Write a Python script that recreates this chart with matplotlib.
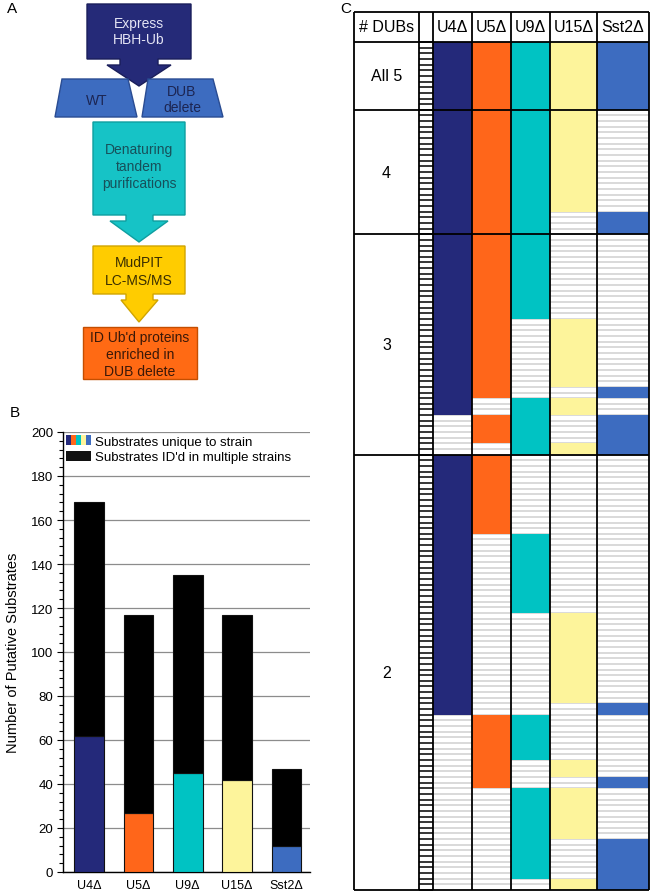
import numpy as np
import matplotlib
matplotlib.use('Agg')
import matplotlib.pyplot as plt
from matplotlib.patches import Polygon, Patch
from matplotlib.legend_handler import HandlerTuple
from matplotlib.ticker import MultipleLocator

plt.rcParams['font.family'] = ['Liberation Sans', 'DejaVu Sans']

# ---- data ----
strains = ['U4Δ', 'U5Δ', 'U9Δ', 'U15Δ', 'Sst2Δ']
strain_colors = ['#24297a', '#ff661a', '#00c3c3', '#fdf49b', '#3d6cc0']
total_substrates = [168, 117, 135, 117, 47]
unique_substrates = [62, 27, 45, 42, 12]

# panel C: groups of proteins found in N strains, and rows per group
group_labels = ['All 5', '4', '3', '2']
group_rows = [12, 22, 39, 77]
# colored runs per strain: (group index, first row, end row) inside the group
u4_runs = [(0, 0, 12), (1, 0, 22), (2, 0, 32), (3, 0, 46)]
u5_runs = [(0, 0, 12), (1, 0, 22), (2, 0, 29), (2, 32, 37), (3, 0, 14), (3, 46, 59)]
u9_runs = [(0, 0, 12), (1, 0, 22), (2, 0, 15), (2, 29, 39), (3, 14, 28), (3, 46, 54),
           (3, 59, 75)]
u15_runs = [(0, 0, 12), (1, 0, 18), (2, 15, 27), (2, 29, 32), (2, 37, 39), (3, 28, 44),
            (3, 54, 57), (3, 59, 68), (3, 75, 77)]
sst2_runs = [(0, 0, 12), (1, 18, 22), (2, 27, 29), (2, 32, 39), (3, 44, 46), (3, 57, 59),
             (3, 68, 77)]
strain_runs = [u4_runs, u5_runs, u9_runs, u15_runs, sst2_runs]

W, H = 650, 895
fig = plt.figure(figsize=(W / 100, H / 100), dpi=100)

def fig_text(x, y, s, **kw):
    fig.text(x / W, 1 - y / H, s, **kw)

# ---- panel A: workflow diagram ----
axa = fig.add_axes([0, 1 - 390 / H, 260 / W, 390 / H])
axa.set_xlim(0, 260)
axa.set_ylim(390, 0)
axa.axis('off')

def callout(box, neck, wings, tip, face, edge):
    x0, x1, y0, y1 = box
    n0, n1 = neck
    w0, w1 = wings
    yn = y1 + 6
    pts = [(x0, y0), (x1, y0), (x1, y1), (n1, y1), (n1, yn), (w1, yn), tip,
           (w0, yn), (n0, yn), (n0, y1), (x0, y1)]
    axa.add_patch(Polygon(pts, closed=True, facecolor=face, edgecolor=edge, lw=1))

callout((87, 191, 5, 60), (120, 158), (107, 171), (139, 87), '#252a78', '#1a1e5a')
axa.text(139, 32, 'Express\nHBH-Ub', ha='center', va='center', fontsize=10,
         color='#e4e4f4', linespacing=1.25)

axa.add_patch(Polygon([(62, 80), (128, 80), (137, 118), (55, 118)], closed=True,
                      facecolor='#3d6cc0', edgecolor='#2a4c92', lw=1, zorder=3))
axa.add_patch(Polygon([(148, 80), (213, 80), (223, 118), (142, 118)], closed=True,
                      facecolor='#3d6cc0', edgecolor='#2a4c92', lw=1, zorder=3))
axa.text(97, 101, 'WT', ha='center', va='center', fontsize=10, color='#1c2552', zorder=4)
axa.text(182, 100, 'DUB\ndelete', ha='center', va='center', fontsize=10, color='#1c2552',
         linespacing=1.2, zorder=4)

callout((93, 185, 123, 216), (126, 153), (110, 168), (139, 243), '#16c3c6', '#0e9ea0')
axa.text(139, 167, 'Denaturing\ntandem\npurifications', ha='center', va='center',
         fontsize=10, color='#17505a', linespacing=1.3)

callout((93, 185, 247, 295), (126, 153), (121, 158), (139, 323), '#ffcc00', '#d0a400')
axa.text(139, 272, 'MudPIT\nLC-MS/MS', ha='center', va='center', fontsize=10,
         color='#3a2e00', linespacing=1.3)

axa.add_patch(Polygon([(83, 328), (197, 328), (197, 380), (83, 380)], closed=True,
                      facecolor='#ff6a14', edgecolor='#c44e00', lw=1))
axa.text(140, 355, "ID Ub'd proteins\nenriched in\nDUB delete", ha='center', va='center',
         fontsize=10, color='#3a1808', linespacing=1.3)

fig_text(7, 9, 'A', fontsize=11, va='center')

# ---- panel B: stacked bars ----
axb = fig.add_axes([63 / W, (H - 873) / H, 247 / W, 440 / H])
x = np.arange(len(strains))
multiple = [t - u for t, u in zip(total_substrates, unique_substrates)]
axb.bar(x, unique_substrates, width=0.6, color=strain_colors, edgecolor='#111111',
        lw=0.8, zorder=3)
axb.bar(x, multiple, bottom=unique_substrates, width=0.6, color='black',
        edgecolor='#111111', lw=0.8, zorder=3)
axb.set_xlim(-0.53, 4.48)
axb.set_ylim(0, 200)
axb.yaxis.set_major_locator(MultipleLocator(20))
axb.yaxis.set_minor_locator(MultipleLocator(4))
axb.grid(axis='y', color='#8c8c8c', lw=0.9, zorder=0)
axb.set_axisbelow(True)
axb.set_xticks(x)
axb.set_xticklabels(strains, fontsize=9)
axb.tick_params(axis='x', length=0, pad=5)
axb.tick_params(axis='y', which='major', length=4, width=0.8, labelsize=9.5, pad=3)
axb.tick_params(axis='y', which='minor', length=3, width=0.8)
for side in ['top', 'right']:
    axb.spines[side].set_visible(False)
axb.spines['left'].set_linewidth(1)
axb.spines['bottom'].set_linewidth(1)
axb.set_ylabel('Number of Putative Substrates', fontsize=10.5, labelpad=8)

stripe_handles = tuple(Patch(facecolor=c, edgecolor='none') for c in strain_colors)
black_handle = Patch(facecolor='#111111', edgecolor='none')
axb.legend([stripe_handles, black_handle],
           ['Substrates unique to strain', "Substrates ID'd in multiple strains"],
           handler_map={tuple: HandlerTuple(ndivide=None, pad=0)},
           loc='upper left', bbox_to_anchor=(0.0, 1.0), frameon=False, fontsize=9.5,
           handlelength=1.9, handleheight=0.8, handletextpad=0.25, labelspacing=0.2,
           borderaxespad=0.15, borderpad=0.1)

fig_text(10, 413, 'B', fontsize=11, va='center')

# ---- panel C: overlap table ----
n_rows = sum(group_rows)
row_px = (891 - 43) / n_rows
axc = fig.add_axes([350 / W, 2 / H, 300 / W, 883 / H])
axc.set_xlim(350, 650)
axc.set_ylim(n_rows + 2 / row_px, -(43 - 10) / row_px)
axc.axis('off')
header_top = -30 / row_px

col_edges = [354, 419, 433, 472, 511, 550, 597, 649]
group_start = np.concatenate([[0], np.cumsum(group_rows)[:-1]])

for i, runs in enumerate(strain_runs):
    left, right = col_edges[2 + i], col_edges[3 + i]
    axc.hlines(np.arange(1, n_rows), left, right, colors='#cfcfcf', lw=1.1, zorder=1)
    starts = [group_start[g] + a for g, a, b in runs]
    heights = [b - a for g, a, b in runs]
    axc.bar([(left + right) / 2] * len(runs), heights, bottom=starts, width=right - left,
            color=strain_colors[i], lw=0, zorder=2)

# ladder column
axc.hlines(np.arange(0, n_rows + 1), col_edges[1], col_edges[2], colors='black', lw=1.1,
           zorder=3)

# grid borders
axc.vlines(col_edges, header_top, n_rows, colors='black', lw=1.3, zorder=4)
axc.hlines([header_top, 0] + list(np.cumsum(group_rows)), col_edges[0], col_edges[-1],
           colors='black', lw=1.3, zorder=4)

axc.text((col_edges[0] + col_edges[1]) / 2, header_top / 2, '# DUBs', ha='center',
         va='center', fontsize=11.5)
for i, s in enumerate(strains):
    axc.text((col_edges[2 + i] + col_edges[3 + i]) / 2, header_top / 2, s, ha='center',
             va='center', fontsize=11.5)
for g, lab in enumerate(group_labels):
    axc.text((col_edges[0] + col_edges[1]) / 2, group_start[g] + group_rows[g] / 2, lab,
             ha='center', va='center', fontsize=11.5)

fig_text(340, 9, 'C', fontsize=11, va='center')

fig.savefig('out.png', dpi=100)
